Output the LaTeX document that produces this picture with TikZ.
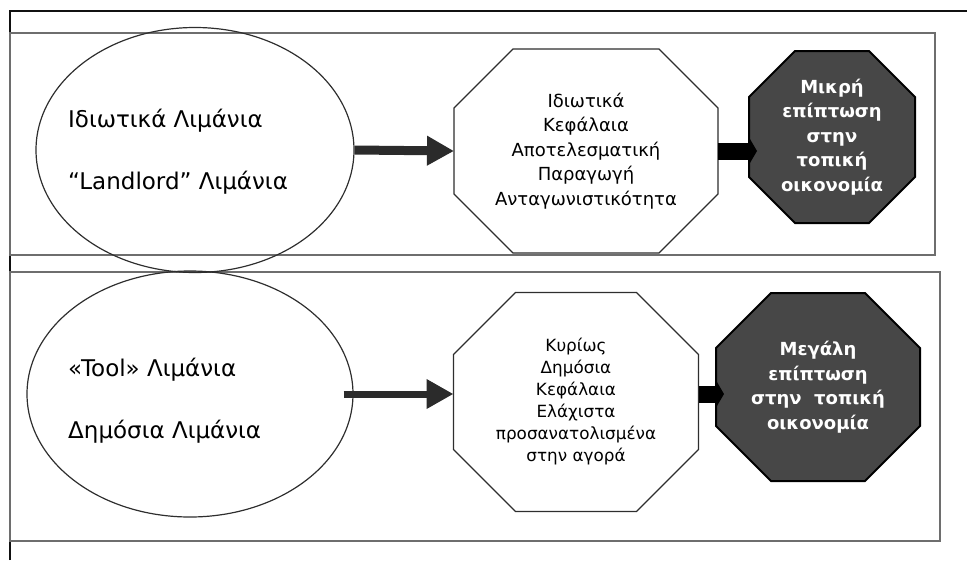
\documentclass[tikz,border=0pt]{standalone}
\usepackage{fontspec}
\setmainfont{DejaVu Sans}
\usetikzlibrary{shapes.geometric, arrows.meta, backgrounds}
\definecolor{FrameBlack}{HTML}{111111}
\definecolor{PanelGray}{HTML}{6E6E6E}
\definecolor{LineGray}{HTML}{2E2E2E}
\definecolor{ImpactGray}{HTML}{474747}
\definecolor{ArrowGray}{HTML}{2B2B2B}
% octagon round a rectangular node: style, node, corner cut
\newcommand{\octagonof}[3]{%
    \path[#1] ([xshift=#3]#2.north west) -- ([xshift=-#3]#2.north east)
        -- ([yshift=-#3]#2.north east) -- ([yshift=#3]#2.south east)
        -- ([xshift=-#3]#2.south east) -- ([xshift=#3]#2.south west)
        -- ([yshift=#3]#2.south west) -- ([yshift=-#3]#2.north west) -- cycle;}
\tikzset{
    % Frame and panel lines
    outerframe/.style={
        draw=FrameBlack,
        line width=2.4pt
    },
    panel/.style={
        draw=PanelGray,
        line width=1.8pt
    },
    % Port types - empty ellipses, text set beside
    porttype/.style={
        ellipse,
        draw=LineGray,
        line width=1.2pt
    },
    porttext/.style={
        anchor=west,
        align=left,
        inner sep=0pt,
        font=\fontsize{23}{62}\selectfont
    },
    % Octagon boxes - text nodes, edges drawn behind
    capital/.style={
        rectangle,
        inner sep=0pt,
        outer sep=0pt,
        align=center,
        font=\fontsize{18}{24.5}\selectfont
    },
    impact/.style={
        rectangle,
        inner sep=0pt,
        outer sep=0pt,
        align=center,
        text=white,
        font=\bfseries\fontsize{18}{24.5}\selectfont
    },
    capitaledge/.style={
        draw=LineGray,
        fill=white,
        line width=1.2pt
    },
    impactedge/.style={
        draw=black,
        fill=ImpactGray,
        line width=2pt
    },
    % Arrow styles
    grayarrow/.style={
        -{Triangle[length=27pt,width=28pt]},
        line width=9pt,
        draw=ArrowGray
    },
    blackarrow/.style={
        -{Triangle[length=8pt,width=27pt]},
        line width=17pt,
        draw=black,
        shorten >=-8pt
    }
}
\begin{document}
\begin{tikzpicture}[x=1pt, y=-1pt]
    \useasboundingbox (0,0) rectangle (967,560);

    % top row
    \node[porttype, minimum width=318pt, minimum height=245pt] (priv) at (195,150) {};
    \node[porttext] (privtext) at (68,152) {Ιδιωτικά Λιμάνια\\“Landlord” Λιμάνια};

    \node[capital, minimum width=264pt, minimum height=204pt] (privcap) at (586,151)
        {Ιδιωτικά\\Κεφάλαια\\Αποτελεσματική\\Παραγωγή\\Ανταγωνιστικότητα};

    \node[impact, minimum width=166pt, minimum height=172pt] (privimpact) at (832,137)
        {Μικρή\\επίπτωση\\στην\\τοπική\\οικονομία};

    % bottom row
    \node[porttype, minimum width=326pt, minimum height=246pt] (pub) at (190,394) {};
    \node[porttext] (pubtext) at (68,401) {«Tool» Λιμάνια\\Δημόσια Λιμάνια};

    \node[capital, minimum width=245pt, minimum height=219pt,
          font=\fontsize{16.8}{22}\selectfont] (pubcap) at (576,402)
        {Κυρίως\\Δημόσια\\Κεφάλαια\\Ελάχιστα\\προσανατολισμένα\\στην αγορά};

    \node[impact, minimum width=204pt, minimum height=188pt] (pubimpact) at (818,387)
        {Μεγάλη\\επίπτωση\\στην\ \ τοπική\\οικονομία};

    \begin{scope}[on background layer]
        \draw[outerframe] (10,560) -- (10,11) -- (967,11);
        \draw[panel] (10,33) rectangle (935,255);
        \draw[panel] (10,272) rectangle (940,541);
        \octagonof{capitaledge}{privcap}{59pt}
        \octagonof{impactedge}{privimpact}{46pt}
        \octagonof{capitaledge}{pubcap}{62pt}
        \octagonof{impactedge}{pubimpact}{55pt}
    \end{scope}

    \draw[grayarrow] (priv.east) -- (privcap.west);
    \draw[blackarrow] (privcap.east) -- (privcap.east -| privimpact.west);
    \draw[grayarrow, line width=7pt, shorten <=-10pt] (pub.east) -- (pub.east -| pubcap.west);
    \draw[blackarrow] (pubcap.east |- pub.east) -- (pubimpact.west |- pub.east);
\end{tikzpicture}
\end{document}
